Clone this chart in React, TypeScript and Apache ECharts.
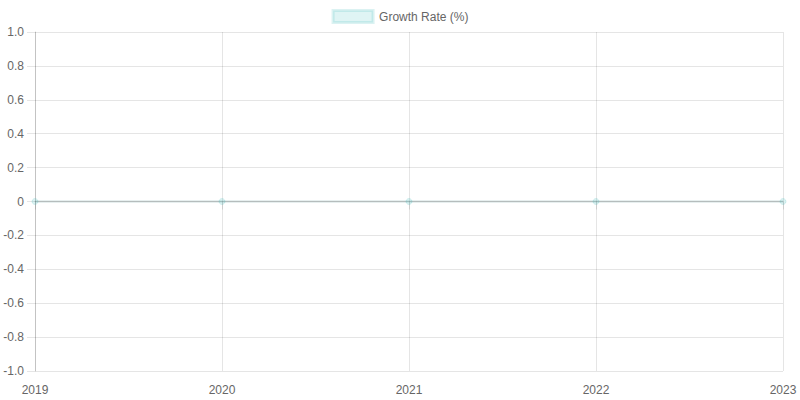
import React, { useEffect, useRef } from "react";
import * as echarts from "echarts";

const years = ["2019", "2020", "2021", "2022", "2023"];
const growthRate = [0, 0, 0, 0, 0];
const seriesName = "Growth Rate (%)";

const TEAL = "rgba(75,192,192,0.2)";
const LINE = "rgba(120,165,165,0.18)";
const GRID = "rgba(0,0,0,0.1)";
const FONT = "'Liberation Sans', Arial, Helvetica, sans-serif";

export default function App() {
  const ref = useRef<HTMLDivElement>(null);
  useEffect(() => {
    if (!ref.current) return;
    const chart = echarts.init(ref.current, undefined, { renderer: "svg" });
    chart.setOption({
      animation: false,
      textStyle: { fontFamily: FONT },
      legend: {
        top: 4,
        left: "center",
        icon: "rect",
        itemWidth: 40,
        itemHeight: 12,
        itemGap: 10,
        textStyle: { color: "#666", fontSize: 12, fontFamily: FONT, padding: [0, 0, 0, 1] },
        itemStyle: { color: "rgba(75,192,192,0.18)", borderColor: TEAL, borderWidth: 3 },
        data: [seriesName],
      },
      grid: { left: 35, right: 17, top: 32, bottom: 29, containLabel: false },
      xAxis: {
        type: "category",
        data: years,
        boundaryGap: false,
        axisLine: { show: true, lineStyle: { color: "rgba(0,0,0,0.15)" } },
        axisTick: { show: true, length: 8, lineStyle: { color: GRID } },
        axisLabel: { color: "#666", fontSize: 12, margin: 13, fontFamily: FONT },
        splitLine: { show: true, lineStyle: { color: GRID } },
      },
      yAxis: {
        type: "value",
        min: -1,
        max: 1,
        interval: 0.2,
        axisLine: { show: true, lineStyle: { color: "rgba(0,0,0,0.15)" } },
        axisTick: { show: true, length: 8, lineStyle: { color: GRID } },
        axisLabel: {
          color: "#666",
          fontSize: 12,
          margin: 11,
          fontFamily: FONT,
          formatter: (v: number) => (Math.abs(v) < 1e-9 ? "0" : v.toFixed(1)),
        },
        splitLine: { show: true, lineStyle: { color: GRID } },
      },
      series: [
        {
          name: seriesName,
          type: "line",
          data: growthRate,
          symbol: "circle",
          symbolSize: 6,
          showSymbol: true,
          lineStyle: { color: LINE, width: 3 },
          itemStyle: { color: TEAL, borderColor: TEAL, borderWidth: 1 },
        },
      ],
    });
    return () => chart.dispose();
  }, []);
  return <div ref={ref} style={{ width: 800, height: 400, position: "absolute", left: 0, top: 0 }} />;
}
